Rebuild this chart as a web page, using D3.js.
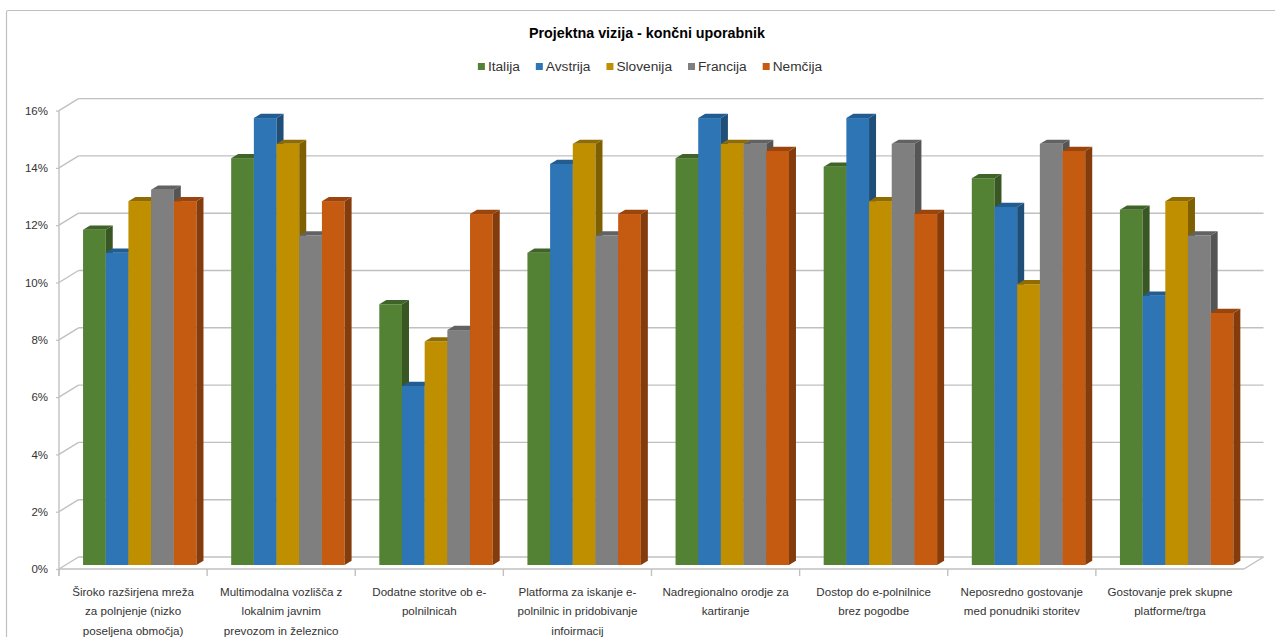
<!DOCTYPE html>
<html>
<head>
<meta charset="utf-8">
<script src="https://cdn.jsdelivr.net/npm/d3@7/dist/d3.min.js"></script>
<style>
  html, body { margin: 0; padding: 0; background: #ffffff; }
  svg { display: block; font-family: "Liberation Sans", Arial, sans-serif; }
</style>
</head>
<body>
<svg id="chart" width="1275" height="637"></svg>
<script>
// Category labels (line breaks marked with "|")
const categories = [
  "Široko razširjena mreža|za polnjenje (nizko|poseljena območja)",
  "Multimodalna vozlišča z|lokalnim javnim|prevozom in železnico",
  "Dodatne storitve ob e-|polnilnicah",
  "Platforma za iskanje e-|polnilnic in pridobivanje|infoirmacij",
  "Nadregionalno orodje za|kartiranje",
  "Dostop do e-polnilnice|brez pogodbe",
  "Neposredno gostovanje|med ponudniki storitev",
  "Gostovanje prek skupne|platforme/trga"
];

const seriesNames = ["Italija", "Avstrija", "Slovenija", "Francija", "Nemčija"];

// Share of answers per country (fractions)
const italija   = [0.117, 0.142, 0.091, 0.109, 0.142, 0.139, 0.135, 0.124];
const avstrija  = [0.109, 0.156, 0.0625, 0.140, 0.156, 0.156, 0.125, 0.094];
const slovenija = [0.127, 0.147, 0.078, 0.147, 0.147, 0.127, 0.098, 0.127];
const francija  = [0.131, 0.115, 0.082, 0.115, 0.147, 0.147, 0.147, 0.115];
const nemcija   = [0.127, 0.127, 0.1225, 0.1225, 0.1445, 0.1225, 0.1445, 0.088];

const yTicks = [0, 0.02, 0.04, 0.06, 0.08, 0.10, 0.12, 0.14, 0.16];

const seriesValues = [italija, avstrija, slovenija, francija, nemcija];

// front / side / top face colours per series
const frontColors = ["#548235", "#2E75B6", "#BF8F00", "#7F7F7F", "#C55A11"];
const sideColors  = ["#385723", "#1F4E79", "#7F6000", "#555555", "#843C0C"];
const topColors   = ["#3F6428", "#235C90", "#8F6B00", "#626262", "#9A450D"];

const svg = d3.select("#chart");

// Layout of the 3D box
const frontLeft = 59, frontRight = 1244, floorY = 569, topY = 110.6;
const wallDX = 19.5, wallDY = -12;       // depth offset of the back wall
const barDX = 6.7, barDY = -4;           // depth offset of the bar front faces
const sideW = 7, sideH = 4.2;            // bar depth faces

const y = d3.scaleLinear().domain([0, 0.16]).range([floorY, topY]);
const x0 = d3.scaleBand().domain(d3.range(categories.length)).range([frontLeft, frontRight]);
const x1 = d3.scaleBand().domain(d3.range(seriesNames.length))
  .range([17.35, x0.bandwidth() - 17.35]);

const gridColor = "#C0C0C0";

// outer chart border
svg.append("path")
  .attr("d", "M6.5,637 L6.5,12 Q6.5,10.5 8,10.5 L1275,10.5")
  .attr("fill", "none").attr("stroke", "#BFBFBF").attr("stroke-width", 1.2);

// back wall gridlines and the diagonal connectors to the front axis
const grid = svg.append("g").attr("stroke", gridColor).attr("stroke-width", 1.4).attr("fill", "none");
yTicks.forEach(t => {
  const yy = y(t);
  grid.append("line")
    .attr("x1", frontLeft + wallDX).attr("x2", frontRight + wallDX)
    .attr("y1", yy + wallDY).attr("y2", yy + wallDY);
  grid.append("line")
    .attr("x1", frontLeft).attr("y1", yy)
    .attr("x2", frontLeft + wallDX).attr("y2", yy + wallDY);
});
// floor front edge and right edge
grid.append("line").attr("x1", frontLeft).attr("x2", frontRight)
  .attr("y1", floorY).attr("y2", floorY);
grid.append("line").attr("x1", frontRight).attr("y1", floorY)
  .attr("x2", frontRight + wallDX).attr("y2", floorY + wallDY);
// vertical axis line
grid.append("line").attr("x1", frontLeft).attr("x2", frontLeft)
  .attr("y1", topY).attr("y2", floorY + 7);
// category separators
d3.range(categories.length).forEach(i => {
  const xx = x0(i);
  grid.append("line").attr("x1", xx).attr("x2", xx)
    .attr("y1", floorY).attr("y2", floorY + 7);
});

// y axis labels
const yAxis = d3.axisLeft(y).tickValues(yTicks).tickFormat(d3.format(".0%"))
  .tickSize(3).tickPadding(8);
const ya = svg.append("g").attr("transform", `translate(${frontLeft},0)`).call(yAxis);
ya.select(".domain").remove();
ya.selectAll(".tick line").attr("stroke", gridColor).attr("stroke-width", 1.2);
ya.selectAll(".tick text")
  .attr("font-family", "Liberation Sans, Arial, sans-serif")
  .attr("font-size", 11.5).attr("fill", "#333333");

// bars: front, side and top faces, drawn left to right
const barsG = svg.append("g");
categories.forEach((c, i) => {
  seriesNames.forEach((s, k) => {
    const v = seriesValues[k][i];
    const xl = x0(i) + x1(k) + barDX;
    const xr = xl + x1.bandwidth();
    const yt = y(v) + barDY;
    const yb = y(0) + barDY;
    const g = barsG.append("g");
    g.append("rect")
      .attr("x", xl).attr("y", yt)
      .attr("width", x1.bandwidth()).attr("height", yb - yt)
      .attr("fill", frontColors[k]);
    g.append("polygon")
      .attr("points", [[xr, yt], [xr + sideW, yt - sideH], [xr + sideW, yb - sideH], [xr, yb]].join(" "))
      .attr("fill", sideColors[k]);
    g.append("polygon")
      .attr("points", [[xl, yt], [xl + sideW, yt - sideH], [xr + sideW, yt - sideH], [xr, yt]].join(" "))
      .attr("fill", topColors[k]);
  });
});

// category labels
const labels = svg.append("g")
  .attr("font-family", "Liberation Sans, Arial, sans-serif")
  .attr("font-size", 11.6).attr("fill", "#333333").attr("text-anchor", "middle");
categories.forEach((c, i) => {
  const t = labels.append("text")
    .attr("x", x0(i) + x0.bandwidth() / 2).attr("y", 596);
  c.split("|").forEach((line, j) => {
    t.append("tspan").attr("x", x0(i) + x0.bandwidth() / 2)
      .attr("dy", j === 0 ? 0 : 19.3).text(line);
  });
});

// title
svg.append("text")
  .attr("x", 647).attr("y", 38)
  .attr("text-anchor", "middle")
  .attr("font-family", "Liberation Sans, Arial, sans-serif")
  .attr("font-size", 14.3).attr("font-weight", "bold").attr("fill", "#000000")
  .text("Projektna vizija - končni uporabnik");

// legend, laid out from measured text widths and centred
const legend = svg.append("g");
const items = seriesNames.map((name, k) => {
  const g = legend.append("g");
  g.append("rect").attr("width", 7).attr("height", 7).attr("y", 63)
    .attr("fill", frontColors[k]);
  const t = g.append("text").attr("x", 10).attr("y", 71)
    .attr("font-family", "Liberation Sans, Arial, sans-serif")
    .attr("font-size", 13.7).attr("fill", "#333333").text(name);
  return { g, w: 10 + t.node().getComputedTextLength() };
});
const gap = 16;
const total = d3.sum(items, d => d.w) + gap * (items.length - 1);
let cx = 650 - total / 2;
items.forEach(it => {
  it.g.attr("transform", `translate(${cx},0)`);
  cx += it.w + gap;
});
</script>
</body>
</html>
